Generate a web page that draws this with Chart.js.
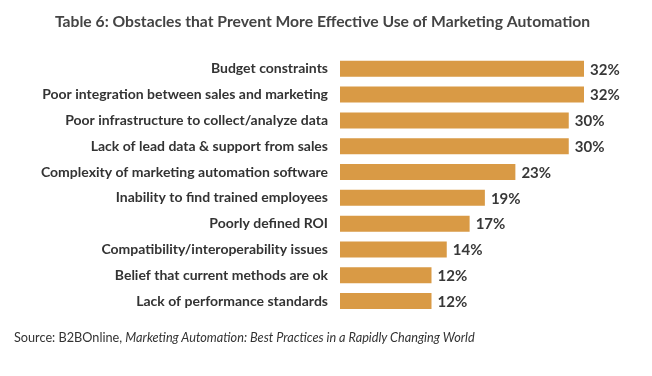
<!DOCTYPE html>
<html>
<head>
<meta charset="utf-8">
<script src="https://cdn.jsdelivr.net/npm/chart.js@4/dist/chart.umd.min.js"></script>
<style>
  html, body { margin: 0; padding: 0; background: #fff; }
  #wrap { position: relative; width: 652px; height: 376px; }
  #source { position: absolute; left: 14px; top: 329px; font-family: Lato, "Open Sans", sans-serif; font-size: 12.7px; color: #333; white-space: nowrap; }
</style>
</head>
<body>
<div id="wrap">
  <canvas id="c" width="652" height="376"></canvas>
  <div id="source">Source: B2BOnline, <i>Marketing Automation: Best Practices in a Rapidly Changing World</i></div>
</div>
<script>
const categories = [
  "Budget constraints",
  "Poor integration between sales and marketing",
  "Poor infrastructure to collect/analyze data",
  "Lack of lead data & support from sales",
  "Complexity of marketing automation software",
  "Inability to find trained employees",
  "Poorly defined ROI",
  "Compatibility/interoperability issues",
  "Belief that current methods are ok",
  "Lack of performance standards"
];
const values = [32, 32, 30, 30, 23, 19, 17, 14, 12, 12];
const chartTitle = "Table 6: Obstacles that Prevent More Effective Use of Marketing Automation";

const valueLabels = {
  id: 'valueLabels',
  afterDatasetsDraw(chart) {
    const ctx = chart.ctx;
    const meta = chart.getDatasetMeta(0);
    ctx.save();
    ctx.font = 'bold 15px Lato, "Open Sans", sans-serif';
    ctx.fillStyle = '#383838';
    ctx.textAlign = 'left';
    ctx.textBaseline = 'middle';
    meta.data.forEach((bar, i) => {
      ctx.fillText(values[i] + '%', bar.x + 6, bar.y + 1);
    });
    ctx.restore();
  }
};

new Chart(document.getElementById('c'), {
  type: 'bar',
  data: {
    labels: categories,
    datasets: [{
      data: values,
      backgroundColor: '#D99A45',
      borderWidth: 0,
      barPercentage: 0.62,
      categoryPercentage: 1.0
    }]
  },
  options: {
    indexAxis: 'y',
    responsive: false,
    animation: false,
    layout: { padding: { left: 0, right: 7, top: 0, bottom: 62 } },
    plugins: {
      legend: { display: false },
      tooltip: { enabled: false },
      title: {
        display: true,
        text: chartTitle,
        color: '#444',
        font: { family: 'Lato, "Open Sans", sans-serif', size: 15.7, weight: 'bold' },
        padding: { top: 13, bottom: 24 }
      }
    },
    scales: {
      x: { display: false, min: 0, max: 40 },
      y: {
        grid: { display: false },
        border: { display: false },
        ticks: {
          color: '#333',
          padding: 4,
          font: { family: 'Lato, "Open Sans", sans-serif', size: 14, weight: 'bold' }
        },
        afterFit(scale) { scale.width = 340; }
      }
    }
  },
  plugins: [valueLabels]
});
</script>
</body>
</html>
